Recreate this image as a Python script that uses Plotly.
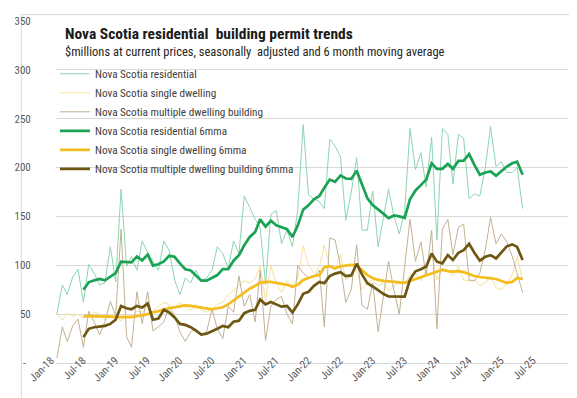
import pandas as pd
import plotly.graph_objects as go

# Monthly periods Jan-2018 .. Apr-2025
months = pd.date_range("2018-01-01", periods=88, freq="MS").strftime("%Y-%m-%d").tolist()

residential = [50, 80, 70, 88, 96, 62, 101, 92, 80, 82, 119, 83,
               178, 99, 109, 95, 125, 113, 104, 95, 125, 115, 85, 70,
               87, 82, 95, 84, 87, 95, 119, 112, 97, 125, 112, 171,
               159, 147, 139, 80, 152, 156, 122, 136, 119, 157, 244, 172,
               168, 165, 158, 229, 222, 211, 146, 175, 210, 136, 136, 176,
               119, 150, 178, 150, 132, 156, 240, 198, 215, 180, 231, 126,
               240, 234, 183, 234, 230, 168, 173, 171, 200, 242, 201, 206,
               195, 195, 200, 158]

single = [52, 44, 51, 48, 50, 46, 48, 52, 50, 44, 50, 47,
          43, 50, 47, 53, 52, 58, 52, 58, 62, 60, 56, 62,
          58, 54, 60, 54, 52, 55, 60, 62, 70, 74, 80, 84,
          82, 86, 100, 64, 100, 82, 72, 84, 80, 86, 120, 100,
          92, 99, 121, 99, 95, 111, 85, 89, 96, 75, 82, 85,
          79, 82, 74, 79, 82, 82, 90, 92, 84, 95, 112, 85,
          95, 94, 89, 99, 85, 84, 85, 79, 82, 89, 77, 75,
          82, 90, 109, 85]

multiple = [5, 37, 22, 38, 45, 16, 53, 42, 29, 42, 63, 48,
            137, 27, 16, 73, 40, 73, 33, 37, 42, 58, 48, 32,
            22, 32, 35, 28, 32, 55, 35, 25, 58, 52, 89, 58,
            70, 42, 95, 23, 58, 65, 68, 50, 40, 100, 92, 87,
            88, 95, 37, 128, 126, 99, 62, 75, 121, 59, 55, 82,
            32, 69, 104, 74, 50, 99, 147, 104, 124, 89, 136, 35,
            137, 147, 111, 139, 142, 85, 84, 92, 116, 149, 122, 132,
            124, 109, 92, 72]

residential_6mma = [None, None, None, None, None,
                    75, 82.6, 84.6, 86, 84.6, 88.6, 92,
                    103.7, 103.7, 103, 109, 105, 111, 99.7, 101, 104, 109.7, 108.7, 102,
                    96, 94.6, 90, 84.2, 84.2, 87, 90, 96, 96, 104.7, 110.4, 120.5,
                    129, 134, 147, 139.6, 145.6, 141, 139, 137, 129, 140.6, 157, 161.4,
                    167.6, 171, 179.3, 187.7, 185.4, 192, 188.8, 188.4, 196.8, 182, 168.6, 161.6,
                    156.6, 152.6, 148.2, 151, 150, 148.5, 167.6, 176.6, 182, 187.7, 204.4, 198.7,
                    198.7, 203.7, 198.7, 206.8, 207, 213.8, 202.7, 192.7, 195, 196, 191.7, 196.7,
                    201, 204.4, 206, 192.7]

single_6mma = [None, None, None, None, None,
               48, 48, 48, 48, 47.5, 47.5, 47,
               47, 46.5, 47, 48, 49, 50, 52, 53, 55, 56, 57, 58.5,
               59, 58.5, 57.5, 56.5, 55.5, 55, 56, 57, 60, 64, 68, 72,
               76, 79, 82, 83, 83, 82, 81, 80, 78, 80, 85, 87,
               89, 90, 98, 99, 97, 99, 100, 100.5, 100, 95, 90, 87,
               85, 84, 83.5, 83, 83, 82, 84, 86, 88, 90, 92, 94,
               95.5, 94, 93.5, 94, 93, 91, 89, 88, 87.5, 87, 86, 84,
               82, 83, 87, 86]

multiple_6mma = [None, None, None, None, None,
                 26.5, 35, 36.6, 37.6, 38, 40, 44.3,
                 58.4, 56, 55, 58.4, 56.7, 61, 44.3, 45.6, 54.4, 51.7, 46.6, 40,
                 39, 36.6, 33.2, 29, 30, 32.2, 35, 38, 36.6, 42.3, 43.3, 51,
                 53.4, 54.4, 65, 60, 62.4, 60, 57.7, 58.4, 51.7, 60, 70.8, 72.8,
                 79, 83, 81.6, 89, 91.5, 93, 89, 89.6, 101.6, 90.6, 81.6, 78.3,
                 74, 70.6, 68.2, 68, 68, 68, 85.4, 93.8, 96, 98.7, 112, 103.7,
                 102, 110.4, 105.4, 112.8, 115.4, 122, 112.8, 104.7, 108.7, 110.4, 107, 113.7,
                 119.4, 121.4, 118.8, 105.4]

y_ticks = [0, 50, 100, 150, 200, 250, 300, 350]
y_tick_labels = ["-\u00a0\u00a0", "50", "100", "150", "200", "250", "300", "350"]

FONT = "Liberation Sans Narrow, Arial Narrow, Roboto Condensed, Roboto, sans-serif"

series = [
    ("Nova Scotia residential", residential, "#8dd5b2", 1),
    ("Nova Scotia single dwelling", single, "#f8e19a", 1),
    ("Nova Scotia multiple dwelling building", multiple, "#c2b191", 1),
    ("Nova Scotia residential 6mma", residential_6mma, "#1aa354", 2.7),
    ("Nova Scotia single dwelling 6mma", single_6mma, "#f3bd1d", 2.7),
    ("Nova Scotia multiple dwelling building 6mma", multiple_6mma, "#6e5713", 2.7),
]

fig = go.Figure()
for name, vals, color, width in series:
    fig.add_trace(go.Scatter(x=months, y=vals, name=name, mode="lines",
                             line=dict(color=color, width=width),
                             connectgaps=False))

fig.update_layout(
    width=577, height=398,
    margin=dict(l=36, r=17, t=7, b=43),
    paper_bgcolor="white", plot_bgcolor="white",
    font=dict(family=FONT, size=11, color="#595959"),
    showlegend=True,
    legend=dict(x=-0.002, y=0.888, xanchor="left", yanchor="top",
                bgcolor="rgba(0,0,0,0)", font=dict(size=11.2, color="#404040"),
                tracegroupgap=0),
    xaxis=dict(type="date", range=["2017-12-27", "2025-12-15"],
               tick0="2018-01-01", dtick="M6", tickformat="%b-%y",
               tickangle=-45, showgrid=False, zeroline=False,
               showline=False, ticks="", ticklabelshift=-6, ticklabelstandoff=-12,
               tickfont=dict(size=11, color="#595959")),
    yaxis=dict(range=[0, 350], tickvals=y_ticks, ticktext=y_tick_labels,
               showgrid=True, gridcolor="#d9d9d9", gridwidth=1,
               zeroline=True, zerolinecolor="#d9d9d9", zerolinewidth=1,
               showline=False,
               ticks="outside", ticklen=22, tickcolor="rgba(0,0,0,0)",
               tickfont=dict(size=11, color="#595959")),
    annotations=[
        dict(text="<b>Nova Scotia residential  building permit trends</b>",
             xref="paper", yref="paper", x=0.0134, y=0.963,
             xanchor="left", yanchor="middle", showarrow=False,
             font=dict(family=FONT, size=15.5, color="#1a1a1a")),
        dict(text="$millions at current prices, seasonally  adjusted and 6 month moving average",
             xref="paper", yref="paper", x=0.0134, y=0.911,
             xanchor="left", yanchor="middle", showarrow=False,
             font=dict(family=FONT, size=12.5, color="#262626")),
    ],
    shapes=[
        dict(type="rect", xref="paper", yref="paper",
             x0=-0.0677, x1=1.0315, y0=-0.1221, y1=1.0187,
             line=dict(color="#d9d9d9", width=1), fillcolor="rgba(0,0,0,0)",
             layer="below"),
    ],
)

fig.write_html("out.html")
